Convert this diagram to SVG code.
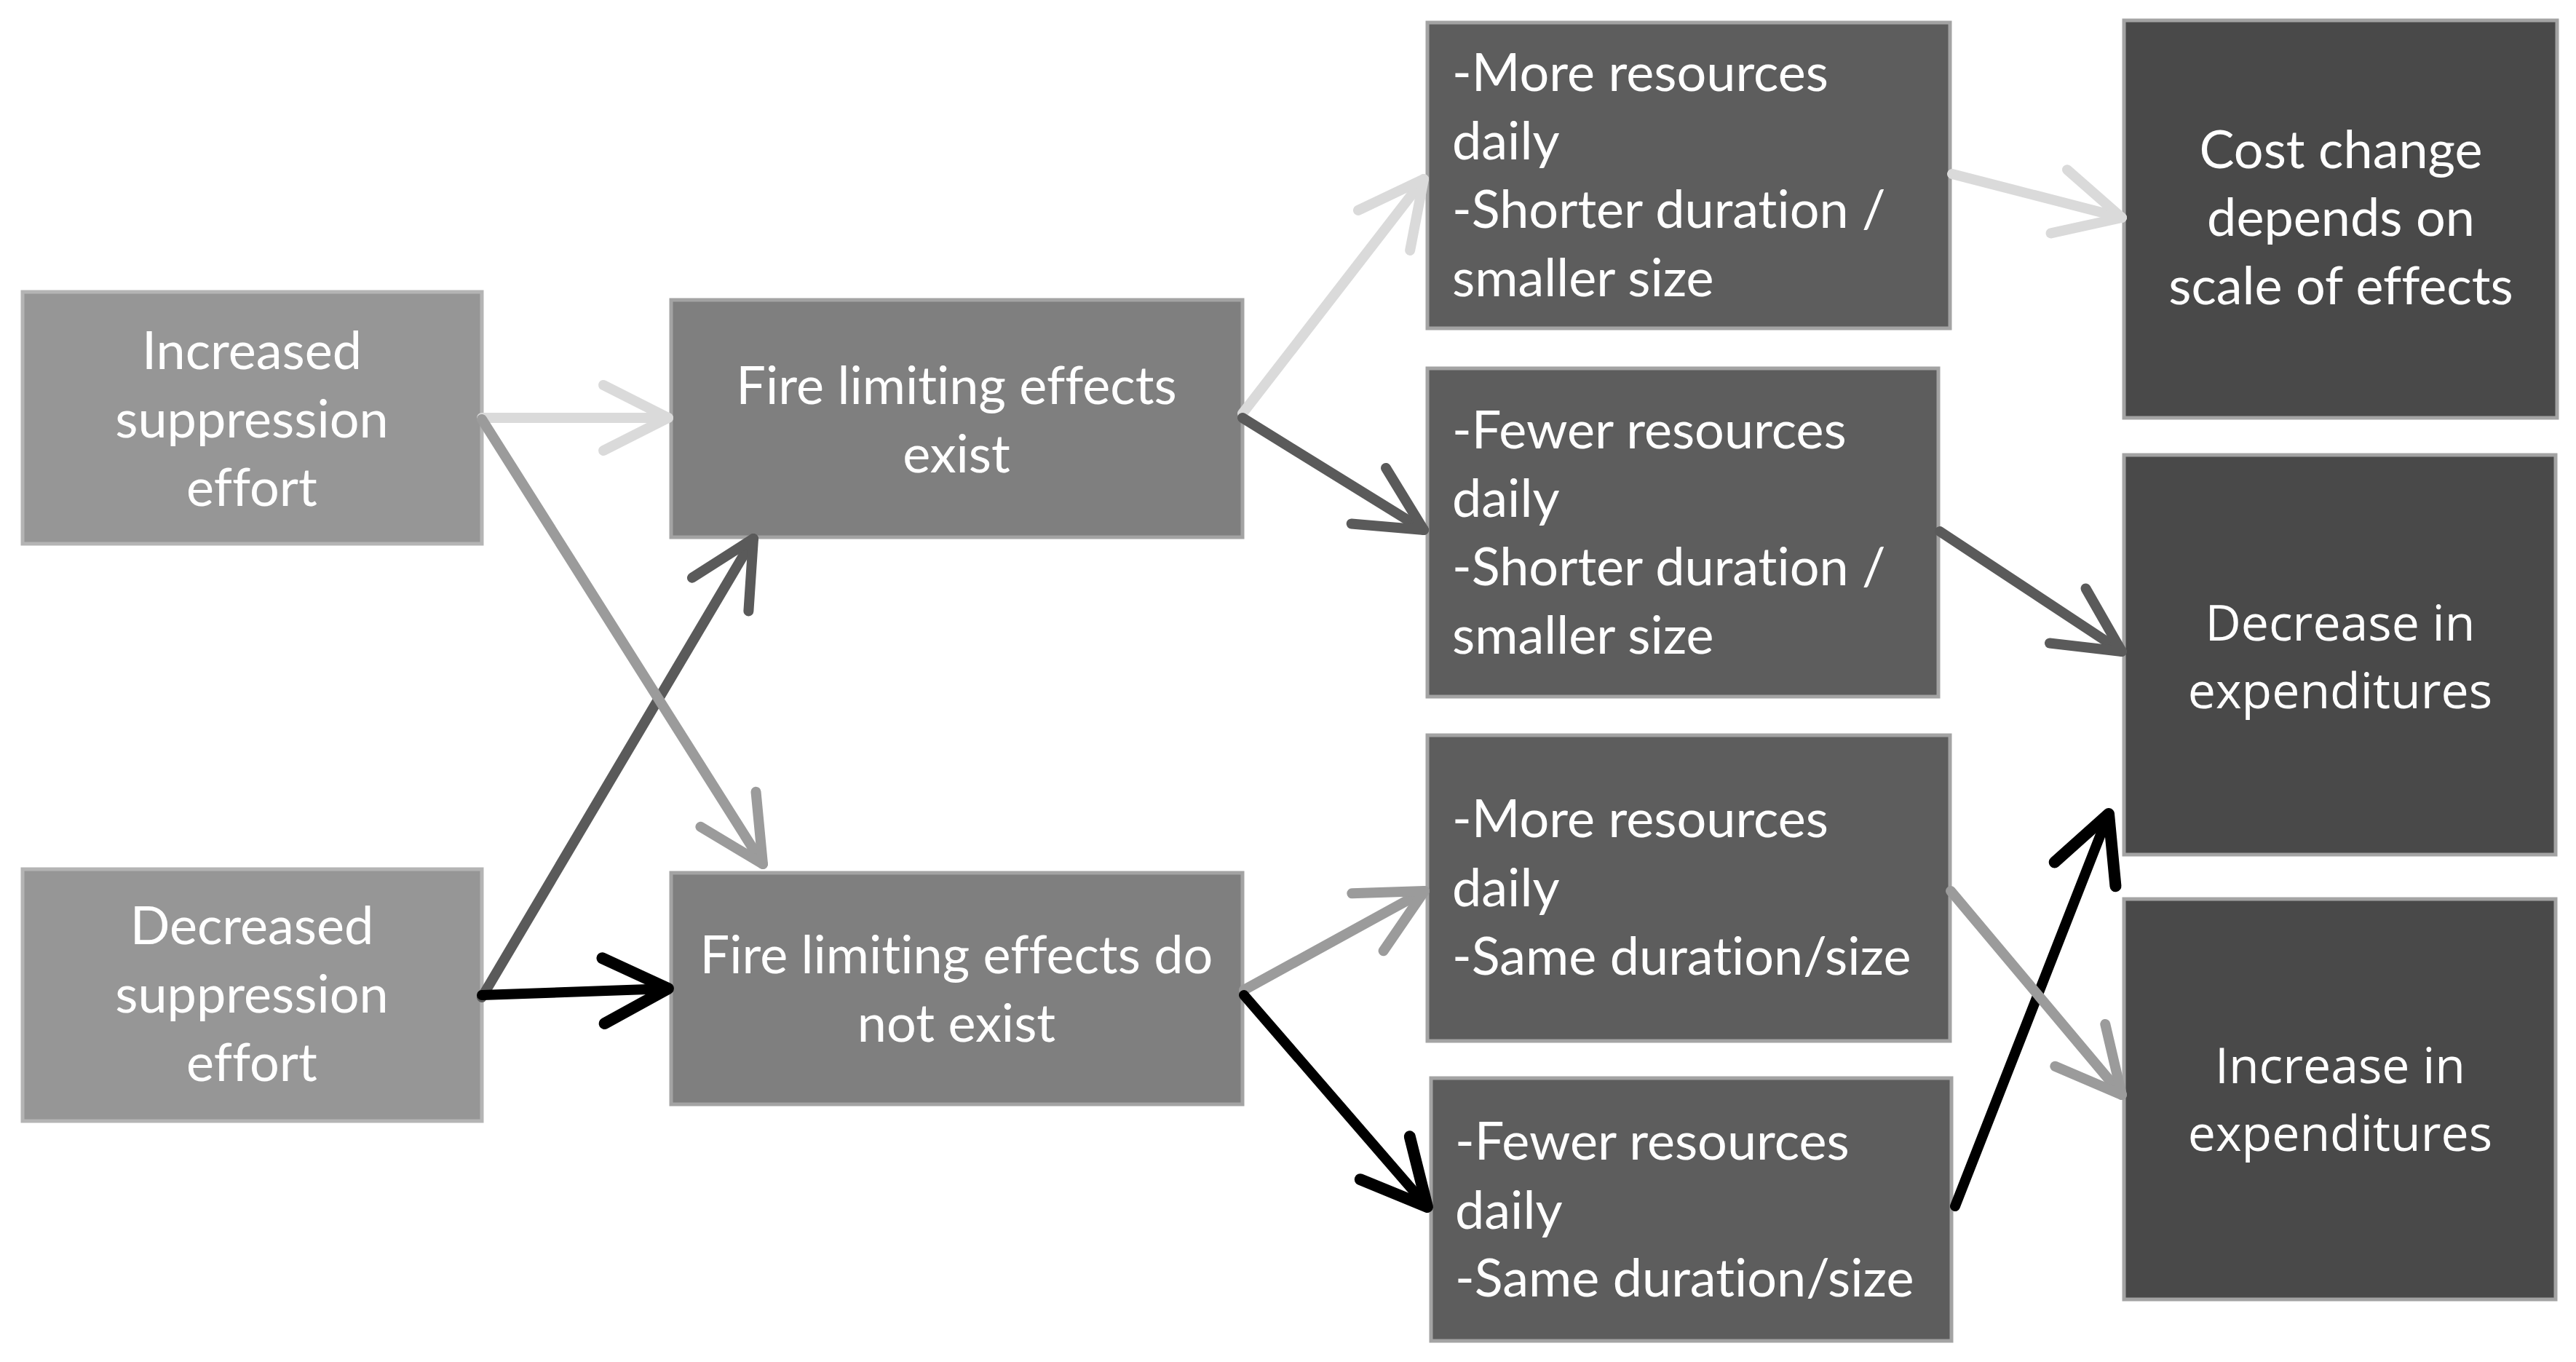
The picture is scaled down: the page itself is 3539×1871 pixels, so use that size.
<svg xmlns="http://www.w3.org/2000/svg" width="3539" height="1871" viewBox="0 0 3539 1871">
<style>
.n rect{stroke-width:5}
.l1 rect{fill:#969696;stroke:#b4b4b4}
.l2 rect{fill:#7f7f7f;stroke:#a3a3a3}
.l3 rect{fill:#5d5d5d;stroke:#a3a3a3}
.l4 rect{fill:#494949;stroke:#a3a3a3}
.n text{fill:#ffffff;font-family:Lato,"Liberation Sans",sans-serif;font-size:72px;font-variant-ligatures:none;font-feature-settings:"liga" 0,"clig" 0}
.c text{text-anchor:middle}
.w text{font-family:"Open Sans","DejaVu Sans",sans-serif;font-size:68px}
.e path{fill:none;stroke-width:14;stroke-linecap:round}
.lt{stroke:#dadada}
.md{stroke:#9b9b9b}
.dk{stroke:#5a5a5a}
.bk{stroke:#000000;stroke-width:16}
</style>
<defs>
<marker id="aLt" markerUnits="userSpaceOnUse" orient="auto" overflow="visible" markerWidth="1" markerHeight="1"><path d="M-89,-45 L0,0 L-89,45" fill="none" stroke="#dadada" stroke-width="14" stroke-linecap="round" stroke-linejoin="round"/></marker>
<marker id="aMd" markerUnits="userSpaceOnUse" orient="auto" overflow="visible" markerWidth="1" markerHeight="1"><path d="M-89,-45 L0,0 L-89,45" fill="none" stroke="#9b9b9b" stroke-width="14" stroke-linecap="round" stroke-linejoin="round"/></marker>
<marker id="aDk" markerUnits="userSpaceOnUse" orient="auto" overflow="visible" markerWidth="1" markerHeight="1"><path d="M-89,-45 L0,0 L-89,45" fill="none" stroke="#5a5a5a" stroke-width="14" stroke-linecap="round" stroke-linejoin="round"/></marker>
<marker id="aBk" markerUnits="userSpaceOnUse" orient="auto" overflow="visible" markerWidth="1" markerHeight="1"><path d="M-89,-45 L0,0 L-89,45" fill="none" stroke="#000000" stroke-width="16" stroke-linecap="round" stroke-linejoin="round"/></marker>
</defs>
<rect width="3539" height="1871" fill="#ffffff"/>
<g id="n1" class="n l1 c"><rect x="31" y="401" width="631" height="346"/><text x="346" y="507">Increased</text><text x="346" y="601">suppression</text><text x="346" y="695">effort</text></g>
<g id="n2" class="n l1 c"><rect x="31" y="1194" width="631" height="346"/><text x="346" y="1297">Decreased</text><text x="346" y="1391">suppression</text><text x="346" y="1485">effort</text></g>
<g id="n3" class="n l2 c"><rect x="922" y="412" width="785" height="326"/><text x="1314" y="555">Fire limiting effects</text><text x="1314" y="649">exist</text></g>
<g id="n4" class="n l2 c"><rect x="922" y="1199" width="785" height="318"/><text x="1314" y="1337">Fire limiting effects do</text><text x="1314" y="1431">not exist</text></g>
<g id="n5" class="n l3"><rect x="1961" y="31" width="718" height="420"/><text x="1995" y="125">-More resources</text><text x="1995" y="219">daily</text><text x="1995" y="313">-Shorter duration /</text><text x="1995" y="407">smaller size</text></g>
<g id="n6" class="n l3"><rect x="1961" y="506" width="702" height="451"/><text x="1995" y="616">-Fewer resources</text><text x="1995" y="710">daily</text><text x="1995" y="804">-Shorter duration /</text><text x="1995" y="898">smaller size</text></g>
<g id="n7" class="n l3"><rect x="1961" y="1010" width="718" height="420"/><text x="1995" y="1150">-More resources</text><text x="1995" y="1245">daily</text><text x="1995" y="1339">-Same duration/size</text></g>
<g id="n8" class="n l3"><rect x="1966" y="1481" width="715" height="361"/><text x="1999" y="1593">-Fewer resources</text><text x="1999" y="1688">daily</text><text x="1999" y="1781">-Same duration/size</text></g>
<g id="n9" class="n l4 c"><rect x="2918" y="28" width="595" height="546"/><text x="3216" y="231">Cost change</text><text x="3216" y="324">depends on</text><text x="3216" y="418">scale of effects</text></g>
<g id="n10" class="n l4 c w"><rect x="2918" y="625" width="593" height="549"/><text x="3215" y="880">Decrease in</text><text x="3215" y="973">expenditures</text></g>
<g id="n11" class="n l4 c w"><rect x="2918" y="1235" width="593" height="550"/><text x="3215" y="1488">Increase in</text><text x="3215" y="1581">expenditures</text></g>
<g id="connectors" class="e">
<path class="lt" d="M662,574 L918,574" marker-end="url(#aLt)"/>
<path class="dk" d="M662,1370 L1035,740" marker-end="url(#aDk)"/>
<path class="md" d="M662,576 L1048,1187" marker-end="url(#aMd)"/>
<path class="bk" d="M662,1367 L918,1358" marker-end="url(#aBk)"/>
<path class="lt" d="M1707,568 L1956,246" marker-end="url(#aLt)"/>
<path class="dk" d="M1707,574 L1956,728" marker-end="url(#aDk)"/>
<path class="md" d="M1709,1360 L1957,1224" marker-end="url(#aMd)"/>
<path class="bk" d="M1709,1367 L1961,1658" marker-end="url(#aBk)"/>
<path class="lt" d="M2682,239 L2915,299" marker-end="url(#aLt)"/>
<path class="dk" d="M2665,730 L2915,895" marker-end="url(#aDk)"/>
<path class="bk" d="M2686,1657 L2897,1118" marker-end="url(#aBk)"/>
<path class="md" d="M2680,1224 L2915,1504" marker-end="url(#aMd)"/>
</g>
</svg>
